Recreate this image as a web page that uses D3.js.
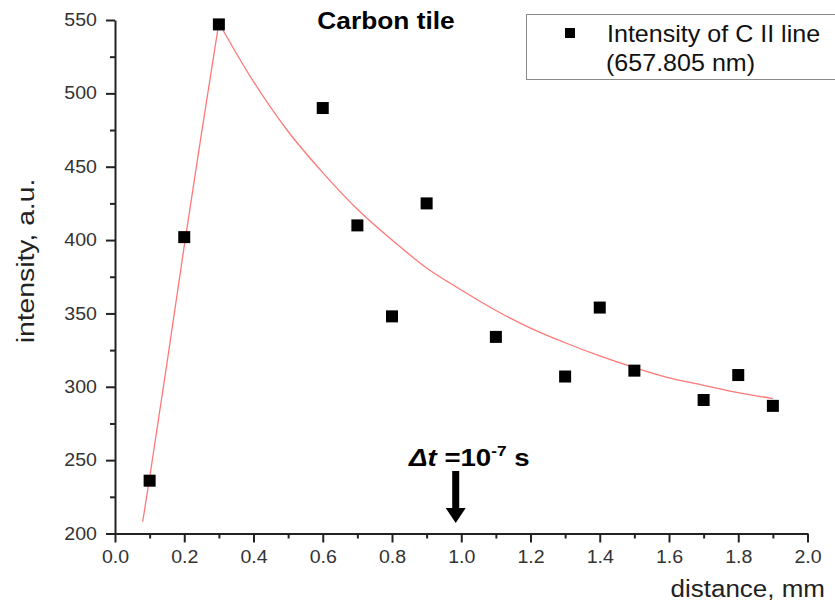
<!DOCTYPE html>
<html>
<head>
<meta charset="utf-8">
<script src="https://cdn.jsdelivr.net/npm/d3@7"></script>
<style>
  html, body { margin: 0; padding: 0; background: #fff; }
  svg { display: block; font-family: "Liberation Sans", Arial, sans-serif; }
</style>
</head>
<body>
<svg id="chart" width="835" height="603"></svg>
<script>
// ---- data ----
const distance  = [0.1, 0.2, 0.3, 0.6, 0.7, 0.8, 0.9, 1.1, 1.3, 1.4, 1.5, 1.7, 1.8, 1.9];
const intensity = [236, 402, 547, 490, 410, 348, 425, 334, 307, 354, 311, 291, 308, 287];

// fitted curve (red)
const fitX = [0.08, 0.1, 0.15, 0.2, 0.25, 0.3, 0.4, 0.5, 0.6, 0.7, 0.8, 0.9, 1.0, 1.1, 1.2, 1.3, 1.4, 1.5, 1.6, 1.7, 1.8, 1.9];
const fitY = [208, 238, 316, 396, 473, 548, 508, 474, 446, 421, 400, 381, 366, 352, 340, 330, 321, 313, 306, 301, 296, 292];
const peakIndex = 5;

const xTickValues = [0.0, 0.2, 0.4, 0.6, 0.8, 1.0, 1.2, 1.4, 1.6, 1.8, 2.0];
const xMinorValues = [0.1, 0.3, 0.5, 0.7, 0.9, 1.1, 1.3, 1.5, 1.7, 1.9];
const yTickValues = [200, 250, 300, 350, 400, 450, 500, 550];
const yMinorValues = [225, 275, 325, 375, 425, 475, 525];

const titleText = "Carbon tile";
const xLabel = "distance, mm";
const yLabel = "intensity, a.u.";
const legendLines = ["Intensity of C II line", "(657.805 nm)"];

// ---- layout ----
const svg = d3.select("#chart");
const x = d3.scaleLinear().domain([0, 2]).range([115, 807.5]);
const y = d3.scaleLinear().domain([200, 550]).range([533.5, 20]);

const axisColor = "#222";
const SX = 1.12; // horizontal glyph stretch of the reference

function addText(parent, px, py, str, o) {
  const g = parent.append("g")
    .attr("transform", `translate(${px},${py}) rotate(${o.rotate || 0}) scale(${o.sx || 1},${o.sy || 1})`);
  const t = g.append("text")
    .attr("text-anchor", o.anchor || "start")
    .attr("font-size", o.size)
    .attr("font-weight", o.weight || "normal")
    .attr("fill", o.fill || "#000")
    .text(str);
  return t;
}

// ---- axes ----
const xAxis = d3.axisBottom(x).tickValues(xTickValues).tickFormat(d3.format(".1f"))
  .tickSize(9).tickSizeOuter(0).tickPadding(8);
const yAxis = d3.axisLeft(y).tickValues(yTickValues).tickFormat(d3.format("d"))
  .tickSize(9).tickSizeOuter(0).tickPadding(9);

const gx = svg.append("g").attr("transform", `translate(0,${y(200)})`).call(xAxis);
const gy = svg.append("g").attr("transform", `translate(${x(0)},0)`).call(yAxis);

svg.append("g").attr("transform", `translate(0,${y(200)})`)
  .call(d3.axisBottom(x).tickValues(xMinorValues).tickFormat("").tickSize(5).tickSizeOuter(0))
  .select(".domain").remove();
svg.append("g").attr("transform", `translate(${x(0)},0)`)
  .call(d3.axisLeft(y).tickValues(yMinorValues).tickFormat("").tickSize(5).tickSizeOuter(0))
  .select(".domain").remove();

svg.selectAll(".domain").attr("stroke", axisColor).attr("stroke-width", 2);
svg.selectAll(".tick line").attr("stroke", axisColor).attr("stroke-width", 2);

gx.selectAll(".tick text")
  .attr("font-size", 17.5).attr("fill", "#333").attr("font-family", "Liberation Sans, Arial, sans-serif")
  .attr("transform", `scale(${SX},1)`);
gy.selectAll(".tick text")
  .attr("font-size", 17.5).attr("fill", "#333").attr("font-family", "Liberation Sans, Arial, sans-serif")
  .attr("x", -18 / SX)
  .attr("transform", `scale(${SX},1)`);

// ---- fit curve ----
const fitPts = fitX.map((d, i) => [d, fitY[i]]);
const riseLine = d3.line().x(d => x(d[0])).y(d => y(d[1])).curve(d3.curveLinear);
const decayLine = d3.line().x(d => x(d[0])).y(d => y(d[1])).curve(d3.curveMonotoneX);
svg.append("path").attr("d", riseLine(fitPts.slice(0, peakIndex + 1)))
  .attr("fill", "none").attr("stroke", "#ff7878").attr("stroke-width", 1.3);
svg.append("path").attr("d", decayLine(fitPts.slice(peakIndex)))
  .attr("fill", "none").attr("stroke", "#ff7878").attr("stroke-width", 1.3);

// ---- data markers ----
const ms = 12;
svg.append("g").selectAll("rect")
  .data(distance.map((d, i) => [d, intensity[i]]))
  .join("rect")
  .attr("x", d => x(d[0]) - ms / 2)
  .attr("y", d => y(d[1]) - ms / 2)
  .attr("width", ms).attr("height", ms)
  .attr("fill", "#000");

// ---- texts ----
addText(svg, 386, 28.5, titleText, { size: 23.5, weight: "bold", anchor: "middle", sx: 1.12 });
addText(svg, 825, 597, xLabel, { size: 23, anchor: "end", sx: 1.13, fill: "#222" });
addText(svg, 34, 261, yLabel, { size: 24, anchor: "middle", rotate: -90, sx: 1.18, fill: "#222" });

// ---- legend ----
const leg = svg.append("g");
leg.append("rect").attr("x", 526.5).attr("y", 14.5).attr("width", 320).attr("height", 65)
  .attr("fill", "#fff").attr("stroke", "#8a8a8a").attr("stroke-width", 1);
leg.append("rect").attr("x", 565).attr("y", 28).attr("width", 10).attr("height", 10).attr("fill", "#000");
addText(leg, 607, 42, legendLines[0], { size: 23, sx: 1.09, fill: "#111" });
addText(leg, 606, 71, legendLines[1], { size: 23, sx: 1.09, fill: "#111" });

// ---- annotation ----
const ann = svg.append("g").attr("transform", "translate(409,465.5) scale(1.15,1)");
const at = ann.append("text").attr("font-size", 24).attr("font-weight", "bold").attr("fill", "#000");
at.append("tspan").attr("font-style", "italic").text("\u0394t");
at.append("tspan").text(" =10");
at.append("tspan").attr("font-size", 15).attr("dy", -10).text("-7");
at.append("tspan").attr("dy", 10).text(" s");

const ax = x(0.984);
svg.append("line").attr("x1", ax).attr("x2", ax).attr("y1", 471).attr("y2", 509)
  .attr("stroke", "#000").attr("stroke-width", 7);
svg.append("path")
  .attr("d", `M${ax - 10},508 L${ax + 10},508 L${ax},523 Z`)
  .attr("fill", "#000");
</script>
</body>
</html>
